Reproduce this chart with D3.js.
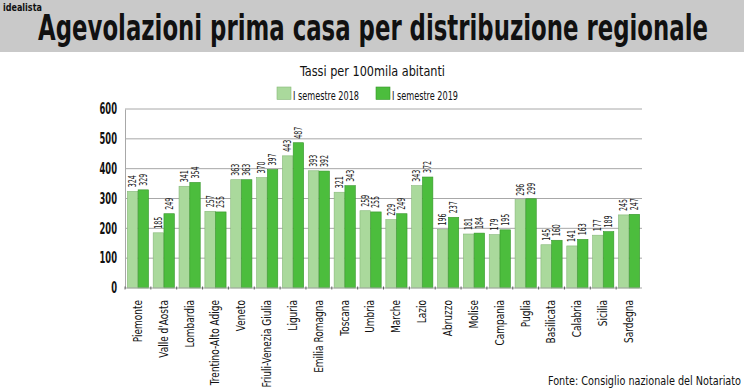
<!DOCTYPE html>
<html lang="it">
<head>
<meta charset="utf-8">
<title>Agevolazioni prima casa</title>
<script src="https://d3js.org/d3.v7.min.js"></script>
<style>
  body { margin: 0; background: #fff; }
  svg { display: block; }
  text { font-family: "DejaVu Sans Condensed", "DejaVu Sans", sans-serif; fill: #111; }
</style>
</head>
<body>
<div id="chart"></div>
<script>
const regions = ["Piemonte", "Valle d'Aosta", "Lombardia", "Trentino-Alto Adige", "Veneto",
  "Friuli-Venezia Giulia", "Liguria", "Emilia Romagna", "Toscana", "Umbria", "Marche", "Lazio",
  "Abruzzo", "Molise", "Campania", "Puglia", "Basilicata", "Calabria", "Sicilia", "Sardegna"];
const values2018 = [324, 185, 341, 257, 363, 370, 443, 393, 321, 259, 229, 343, 196, 181, 179, 296, 145, 141, 177, 245];
const values2019 = [329, 249, 354, 255, 363, 397, 487, 392, 343, 255, 249, 372, 237, 184, 195, 299, 160, 163, 189, 247];
const seriesNames = ["I semestre 2018", "I semestre 2019"];
const yTicks = [0, 100, 200, 300, 400, 500, 600];

const width = 744, height = 389;
const fills = ["#aad99c", "#4cbd3d"];
const strokes = ["#86b878", "#36962b"];

// the fonts are wider than the condensed face of the original, squeeze them
function squeeze(sel, f) {
  sel.attr("textLength", function () { return this.getComputedTextLength() * f; })
    .attr("lengthAdjust", "spacingAndGlyphs");
}

const svg = d3.select("#chart").append("svg")
  .attr("width", width).attr("height", height);

// header band
svg.append("rect").attr("x", 0).attr("y", 0).attr("width", width).attr("height", 52).attr("fill", "#c9c9c9");
svg.append("text").attr("x", 3).attr("y", 11).attr("font-size", 10.5).attr("font-weight", "bold")
  .text("idealista")
  .call(squeeze, 0.85);
svg.append("text").attr("x", 38).attr("y", 40).attr("font-size", 35).attr("font-weight", "bold")
  .attr("textLength", 670).attr("lengthAdjust", "spacingAndGlyphs")
  .text("Agevolazioni prima casa per distribuzione regionale");

svg.append("text").attr("x", 300).attr("y", 76).attr("font-size", 13.5)
  .attr("textLength", 145).attr("lengthAdjust", "spacingAndGlyphs")
  .text("Tassi per 100mila abitanti");

// legend
const legendX = [277, 376];
const legend = svg.append("g").selectAll("g").data(seriesNames).join("g")
  .attr("transform", (d, i) => `translate(${legendX[i]},87)`);
legend.append("rect").attr("width", 14).attr("height", 12.5)
  .attr("fill", (d, i) => fills[i]).attr("stroke", (d, i) => strokes[i]).attr("stroke-width", 0.6);
legend.append("text").attr("x", 16).attr("y", 12.5).attr("font-size", 13)
  .attr("textLength", 66).attr("lengthAdjust", "spacingAndGlyphs")
  .text(d => d);

// scales
const y = d3.scaleLinear().domain([0, 600]).range([288, 109]);
const x = d3.scaleBand().domain(regions).range([125, 642]).paddingInner(0.18).paddingOuter(0.09);
const xs = d3.scaleBand().domain([0, 1]).range([0, x.bandwidth()]).paddingInner(0.03);

// grid
svg.append("g").selectAll("line").data(yTicks.filter(t => t > 0)).join("line")
  .attr("x1", 125).attr("x2", 642)
  .attr("y1", d => y(d)).attr("y2", d => y(d))
  .attr("stroke", "#a8a8a8").attr("stroke-width", 1);

// y axis
const yAxis = svg.append("g").attr("transform", "translate(125,0)")
  .call(d3.axisLeft(y).tickValues(yTicks).tickSize(0).tickPadding(8));
yAxis.select(".domain").attr("stroke", "#a8a8a8");
yAxis.selectAll("text").attr("font-size", 15).attr("font-weight", "bold")
  .attr("font-family", "'DejaVu Sans Condensed','DejaVu Sans',sans-serif").attr("fill", "#111")
  .call(squeeze, 0.62);

// bars
const series = [values2018, values2019];
const groups = svg.append("g").selectAll("g").data(regions).join("g")
  .attr("transform", d => `translate(${x(d)},0)`);

groups.selectAll("rect").data((d, i) => series.map((s, k) => ({ k, v: s[i] }))).join("rect")
  .attr("x", d => xs(d.k))
  .attr("width", xs.bandwidth())
  .attr("y", d => y(d.v))
  .attr("height", d => y(0) - y(d.v))
  .attr("fill", d => fills[d.k])
  .attr("stroke", d => strokes[d.k]).attr("stroke-width", 0.6);

groups.selectAll("text").data((d, i) => series.map((s, k) => ({ k, v: s[i] }))).join("text")
  .attr("transform", d => `translate(${xs(d.k) + xs.bandwidth() / 2 + 3.5},${y(d.v) - 4}) rotate(-90)`)
  .attr("font-size", 10)
  .text(d => d.v)
  .call(squeeze, 0.7);

// x axis baseline with small ticks
svg.append("line").attr("x1", 125).attr("x2", 642).attr("y1", y(0)).attr("y2", y(0))
  .attr("stroke", "#a8a8a8");
svg.append("g").selectAll("line").data(regions).join("line")
  .attr("x1", d => x(d) - x.step() * x.paddingInner() / 2)
  .attr("x2", d => x(d) - x.step() * x.paddingInner() / 2)
  .attr("y1", y(0) - 1.5).attr("y2", y(0) + 1.5)
  .attr("stroke", "#444").attr("stroke-width", 0.8);

// category labels
svg.append("g").selectAll("text").data(regions).join("text")
  .attr("transform", d => `translate(${x(d) + x.bandwidth() / 2 - 0.5},300) rotate(-90)`)
  .attr("text-anchor", "end").attr("dy", "0.35em")
  .attr("font-size", 12.5)
  .text(d => d)
  .call(squeeze, 0.8);

svg.append("text").attr("x", 741).attr("y", 385).attr("text-anchor", "end")
  .attr("font-size", 13)
  .attr("textLength", 193).attr("lengthAdjust", "spacingAndGlyphs")
  .text("Fonte: Consiglio nazionale del Notariato");
</script>
</body>
</html>
